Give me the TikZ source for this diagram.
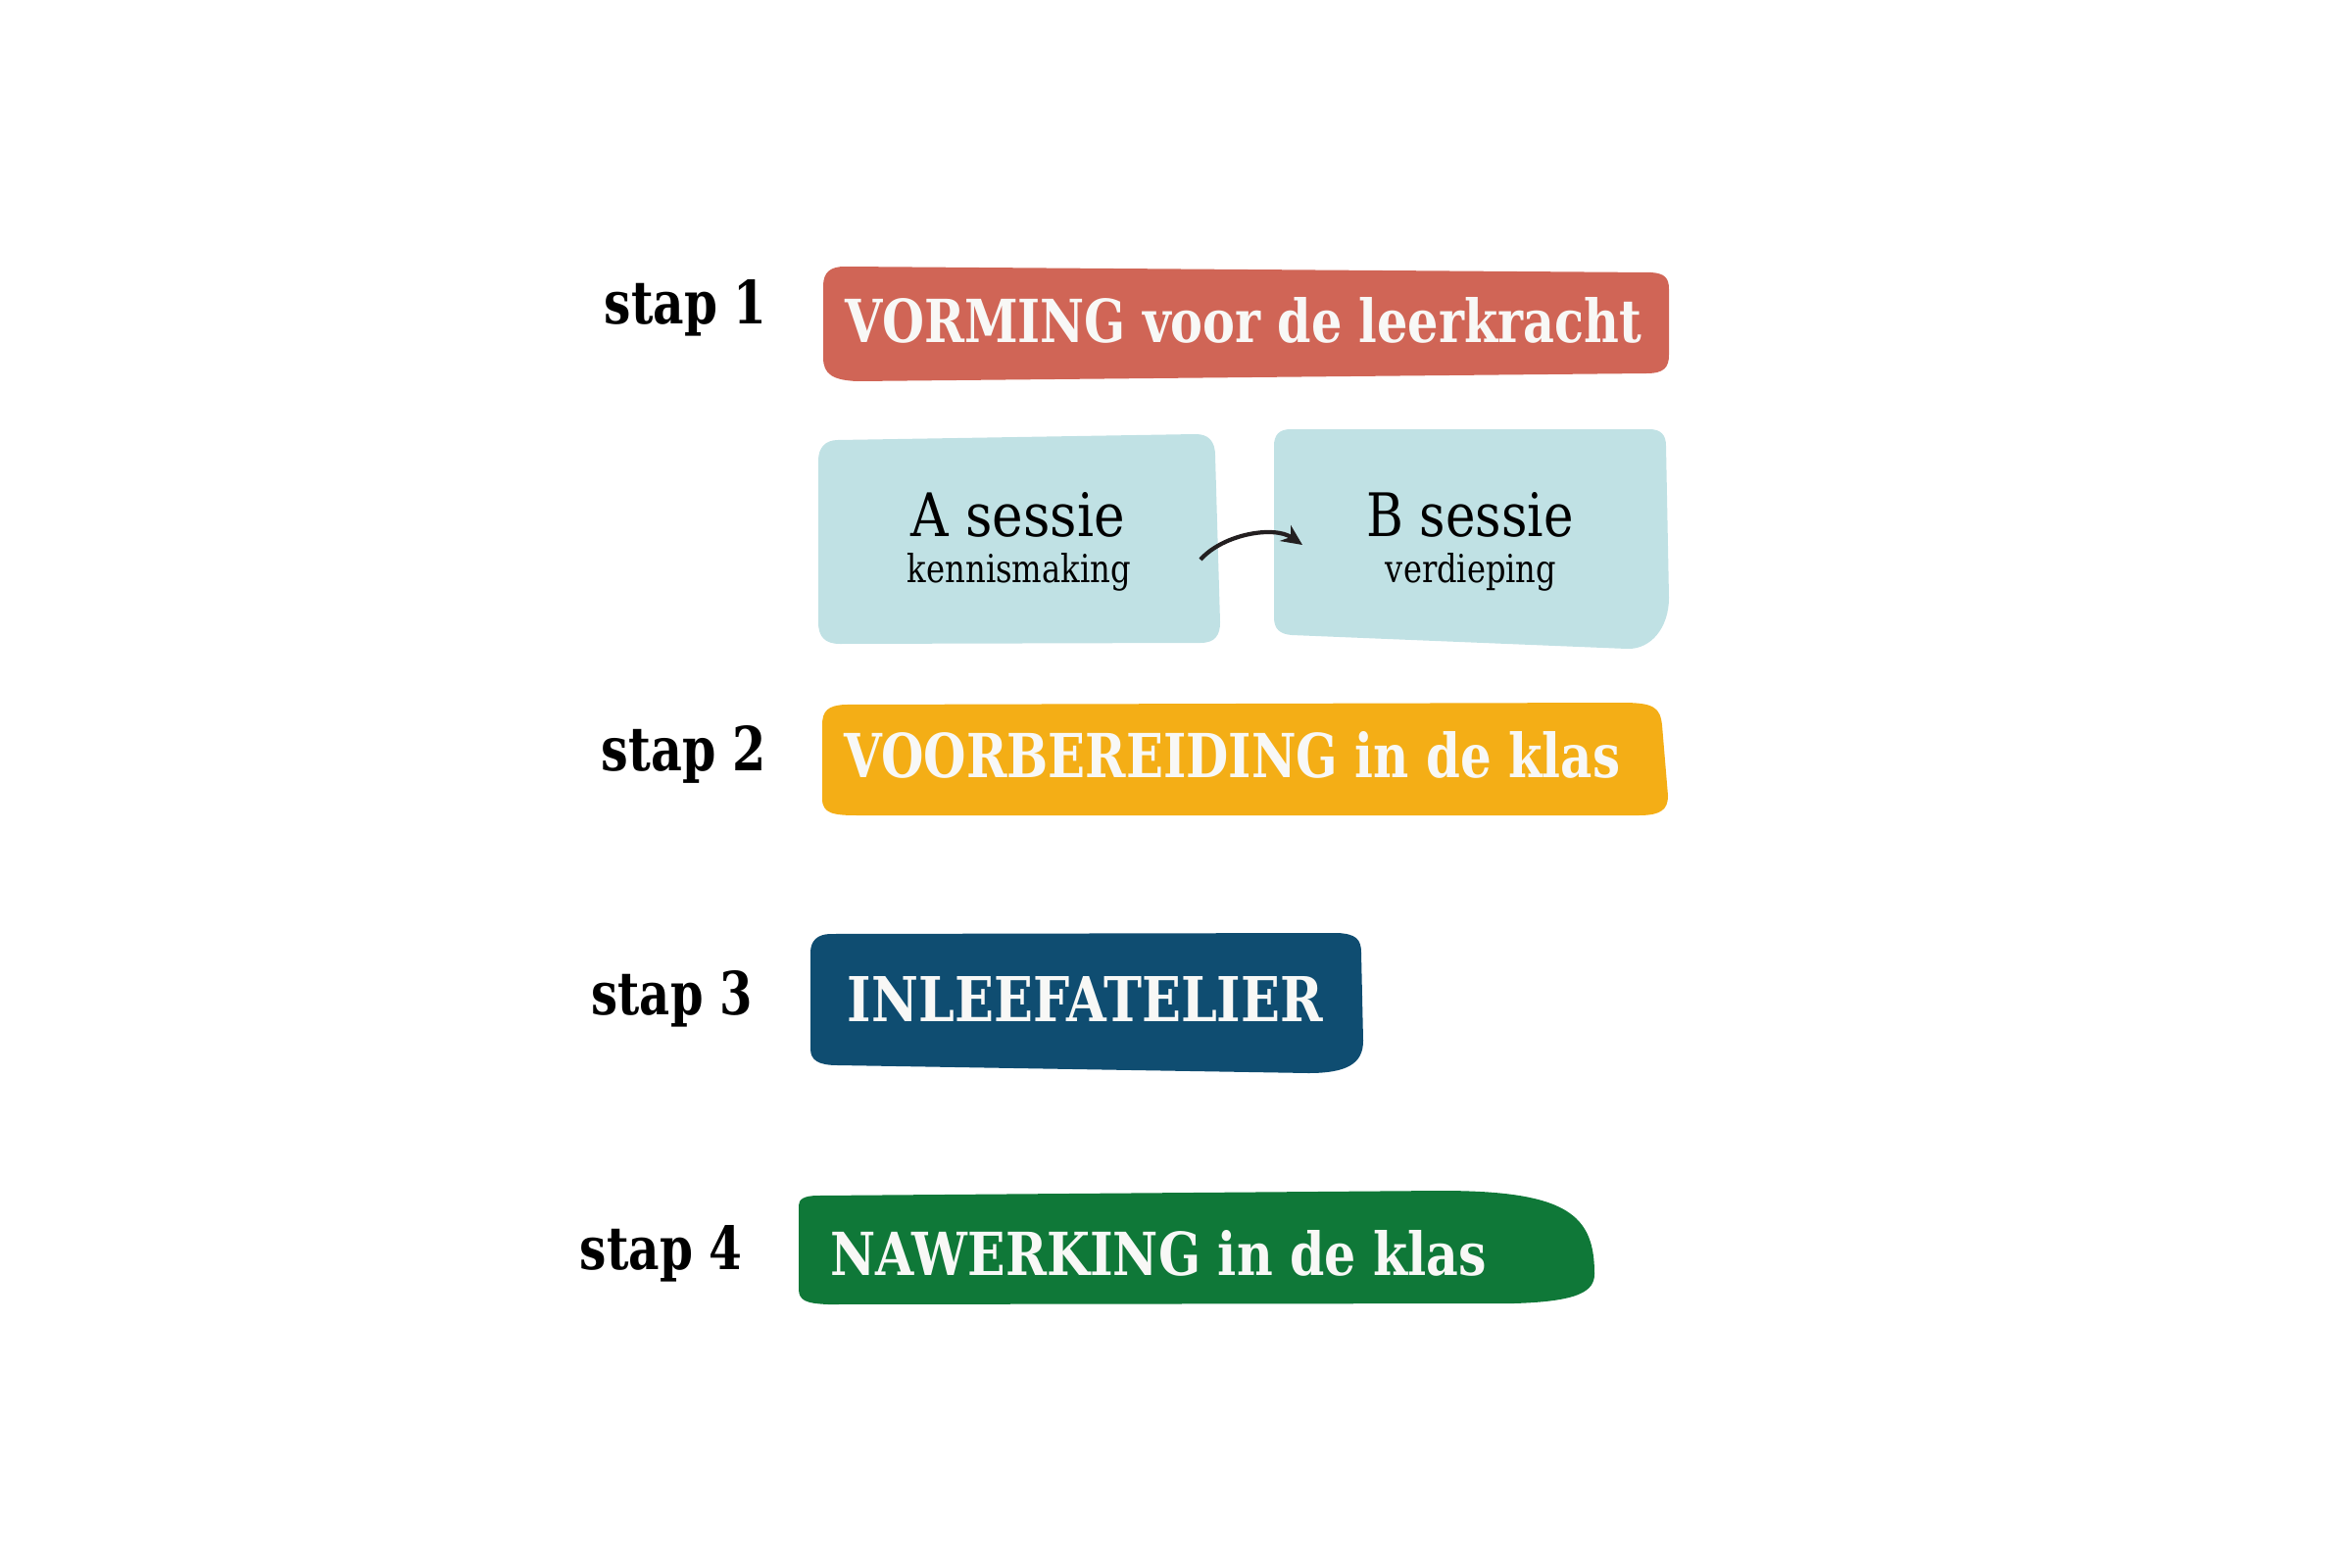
\documentclass[tikz,border=0pt]{standalone}
\usepackage{fontspec}
\setmainfont{DejaVu Serif}
\usepackage{graphicx}
\usetikzlibrary{arrows.meta}
\definecolor{cRed}{HTML}{D06556}
\definecolor{cYellow}{HTML}{F4AE16}
\definecolor{cBlue}{HTML}{0F4D71}
\definecolor{cGreen}{HTML}{0F7838}
\definecolor{cLight}{HTML}{C0E1E4}
\definecolor{cWhite}{HTML}{F8F8F6}
\definecolor{cArrow}{HTML}{231F20}
\newcommand\FitText[3]{\resizebox{#1cm}{#2cm}{#3}}
\begin{document}
\begin{tikzpicture}[x=0.01cm,y=-0.01cm,
  boxtxt/.style={anchor=base west, inner sep=0pt, text=cWhite},
  steplabel/.style={anchor=base west, inner sep=0pt, text=black},
  sesstxt/.style={anchor=base, inner sep=0pt, text=black},
  arr/.style={-{Stealth[length=6pt,width=5.5pt]}, line width=1.2pt, draw=cArrow}]
\useasboundingbox (0,0) rectangle (2400,1600);

% stap 1 : red box
\fill[cRed] (840,292) -- (840,365) .. controls (840,382) and (850,388) .. (875,389)
  -- (1680,381) .. controls (1698,381) and (1703,375) .. (1703,362)
  -- (1703,295) .. controls (1703,283) and (1698,279) .. (1685,278)
  -- (862,272) .. controls (847,272) and (840,278) .. (840,292) -- cycle;

% A and B session boxes
\fill[cLight] (835,470) -- (835,635) .. controls (835,650) and (842,657) .. (857,657)
  -- (1225,656) .. controls (1240,656) and (1245,648) .. (1245,635)
  -- (1240,465) .. controls (1240,450) and (1233,443) .. (1220,443)
  -- (855,449) .. controls (842,449) and (835,457) .. (835,470) -- cycle;
\fill[cLight] (1300,455) -- (1300,630) .. controls (1300,642) and (1306,647) .. (1318,648)
  -- (1660,662) .. controls (1685,663) and (1703,640) .. (1703,610)
  -- (1700,455) .. controls (1700,444) and (1695,438) .. (1683,438)
  -- (1317,438) .. controls (1305,438) and (1300,444) .. (1300,455) -- cycle;

% stap 2 : yellow box
\fill[cYellow] (839,740) -- (839,815) .. controls (839,830) and (850,832) .. (875,832)
  -- (1672,832) .. controls (1695,832) and (1702,826) .. (1702,812)
  -- (1696,740) .. controls (1694,722) and (1688,717) .. (1655,717)
  -- (862,719) .. controls (845,720) and (839,725) .. (839,740) -- cycle;

% stap 3 : blue box
\fill[cBlue] (827,972) -- (827,1070) .. controls (827,1082) and (835,1087) .. (855,1087)
  -- (1335,1095) .. controls (1375,1095) and (1391,1085) .. (1391,1062)
  -- (1389,972) .. controls (1389,958) and (1383,953) .. (1365,952)
  -- (848,953) .. controls (834,953) and (827,960) .. (827,972) -- cycle;

% stap 4 : green box
\fill[cGreen] (815,1230) -- (815,1315) .. controls (815,1327) and (822,1330) .. (845,1331)
  -- (1545,1330) .. controls (1610,1328) and (1627,1318) .. (1627,1300)
  .. controls (1627,1240) and (1600,1215) .. (1470,1215)
  -- (835,1220) .. controls (820,1220) and (815,1224) .. (815,1230) -- cycle;

% step labels
\node[steplabel] (s1) at (616,330) {\FitText{1.66}{0.45}{\bfseries stap 1}};
\node[steplabel] (s2) at (613,786) {\FitText{1.68}{0.46}{\bfseries stap 2}};
\node[steplabel] (s3) at (603,1035) {\FitText{1.64}{0.45}{\bfseries stap 3}};
\node[steplabel] (s4) at (591,1295) {\FitText{1.66}{0.45}{\bfseries stap 4}};

% box titles
\node[boxtxt] (t1) at (862,349) {\FitText{8.12}{0.46}{\bfseries VORMING voor de leerkracht}};
\node[boxtxt] (t2) at (861,793) {\FitText{7.91}{0.47}{\bfseries VOORBEREIDING in de klas}};
\node[boxtxt] (t3) at (864,1042) {\FitText{4.85}{0.46}{\bfseries INLEEFATELIER}};
\node[boxtxt] (t4) at (847,1301) {\FitText{6.69}{0.46}{\bfseries NAWERKING in de klas}};

% session texts
\node[sesstxt] (a1) at (1039,547) {\FitText{2.18}{0.45}{A sessie}};
\node[sesstxt] (a2) at (1040,594) {\FitText{2.28}{0.30}{kennismaking}};
\node[sesstxt] (b1) at (1500,547) {\FitText{2.11}{0.45}{B sessie}};
\node[sesstxt] (b2) at (1501,594) {\FitText{1.74}{0.30}{verdieping}};

% arrow A -> B
\coordinate (arrS) at (1225,571);
\coordinate (arrE) at (1329,556);
\draw[arr] (arrS) .. controls (1248,545) and (1300,536) .. (arrE);
\end{tikzpicture}
\end{document}
